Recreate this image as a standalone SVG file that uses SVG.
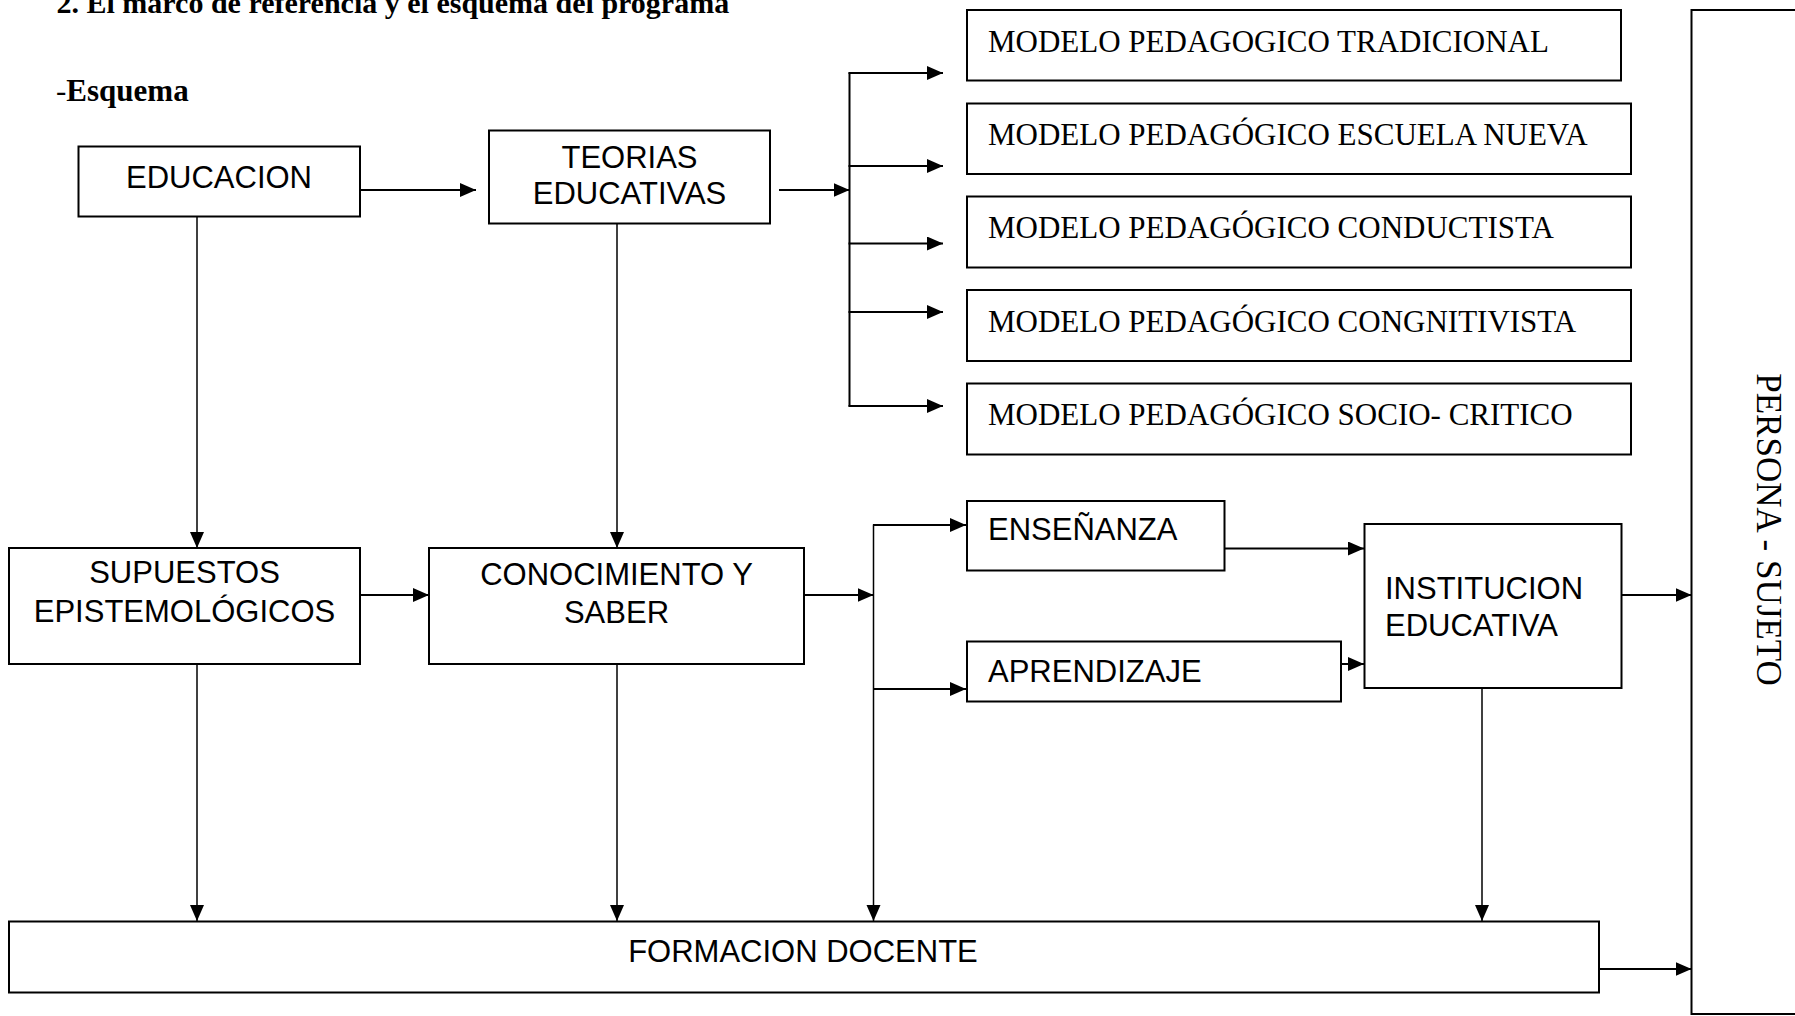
<svg xmlns="http://www.w3.org/2000/svg" width="1795" height="1016" viewBox="0 0 1795 1016">
<style>
.box{fill:#fff;stroke:#000;stroke-width:2}
.sans{font-family:"Liberation Sans",Arial,sans-serif;font-size:31px;fill:#000}
.serif{font-family:"Liberation Serif","Times New Roman",serif;font-size:31px;fill:#000}
.c{text-anchor:middle}
.ln{fill:none;stroke:#000;stroke-width:2}
.lv{fill:none;stroke:#000;stroke-width:1.5}
</style>
<defs>
<marker id="ah" markerUnits="userSpaceOnUse" markerWidth="17" markerHeight="15" refX="16" refY="7" orient="auto">
<path d="M0,0 L16,7 L0,14 z" fill="#000"/>
</marker>
</defs>
<rect width="1795" height="1016" fill="#fff"/>
<g id="headings">
<text class="serif" x="56.5" y="12.5" style="font-size:30px;font-weight:bold">2. El marco de referencia y el esquema del programa</text>
<text class="serif" x="56" y="101"><tspan>-</tspan><tspan font-weight="bold">Esquema</tspan></text>
</g>
<g id="connectors">
<line class="ln" x1="360" y1="190" x2="476" y2="190" marker-end="url(#ah)"/>
<line class="ln" x1="779" y1="190" x2="849.5" y2="190" marker-end="url(#ah)"/>
<line class="ln" x1="849.5" y1="72.5" x2="849.5" y2="406.5"/>
<line class="ln" x1="848.5" y1="73" x2="943" y2="73" marker-end="url(#ah)"/>
<line class="ln" x1="848.5" y1="166" x2="943" y2="166" marker-end="url(#ah)"/>
<line class="ln" x1="848.5" y1="243.5" x2="943" y2="243.5" marker-end="url(#ah)"/>
<line class="ln" x1="848.5" y1="312" x2="943" y2="312" marker-end="url(#ah)"/>
<line class="ln" x1="848.5" y1="406" x2="943" y2="406" marker-end="url(#ah)"/>
<line class="lv" x1="197" y1="217" x2="197" y2="548" marker-end="url(#ah)"/>
<line class="lv" x1="617" y1="223" x2="617" y2="548" marker-end="url(#ah)"/>
<line class="ln" x1="360" y1="595" x2="429" y2="595" marker-end="url(#ah)"/>
<line class="ln" x1="804" y1="595" x2="873.5" y2="595" marker-end="url(#ah)"/>
<line class="lv" x1="873.5" y1="524.5" x2="873.5" y2="921" marker-end="url(#ah)"/>
<line class="ln" x1="873" y1="525" x2="966" y2="525" marker-end="url(#ah)"/>
<line class="ln" x1="873" y1="689" x2="966" y2="689" marker-end="url(#ah)"/>
<line class="ln" x1="1225" y1="548.5" x2="1364" y2="548.5" marker-end="url(#ah)"/>
<line class="ln" x1="1341" y1="664" x2="1364" y2="664" marker-end="url(#ah)"/>
<line class="ln" x1="1621.5" y1="595" x2="1691.5" y2="595" marker-end="url(#ah)"/>
<line class="lv" x1="1482" y1="688" x2="1482" y2="921" marker-end="url(#ah)"/>
<line class="lv" x1="197" y1="664" x2="197" y2="921" marker-end="url(#ah)"/>
<line class="lv" x1="617" y1="664" x2="617" y2="921" marker-end="url(#ah)"/>
<line class="ln" x1="1599" y1="969" x2="1691.5" y2="969" marker-end="url(#ah)"/>
</g>
<g id="educacion">
<rect class="box" x="78.5" y="146.5" width="281.5" height="70"/>
<text class="sans c" x="219" y="188">EDUCACION</text>
</g>
<g id="teorias">
<rect class="box" x="489" y="130.5" width="281" height="93"/>
<text class="sans c" x="629.5" y="168">TEORIAS</text>
<text class="sans c" x="629.5" y="204">EDUCATIVAS</text>
</g>
<g id="m1">
<rect class="box" x="967" y="10" width="654" height="70.5"/>
<text class="serif" x="988" y="51.7">MODELO PEDAGOGICO TRADICIONAL</text>
</g>
<g id="m2">
<rect class="box" x="967" y="103.5" width="664" height="70.5"/>
<text class="serif" x="988" y="145">MODELO PEDAGÓGICO ESCUELA NUEVA</text>
</g>
<g id="m3">
<rect class="box" x="967" y="196.5" width="664" height="71"/>
<text class="serif" x="988" y="238">MODELO PEDAGÓGICO CONDUCTISTA</text>
</g>
<g id="m4">
<rect class="box" x="967" y="290" width="664" height="71"/>
<text class="serif" x="988" y="331.5">MODELO PEDAGÓGICO CONGNITIVISTA</text>
</g>
<g id="m5">
<rect class="box" x="967" y="383.5" width="664" height="71"/>
<text class="serif" x="988" y="425">MODELO PEDAGÓGICO SOCIO- CRITICO</text>
</g>
<g id="supuestos">
<rect class="box" x="9" y="548" width="351" height="116"/>
<text class="sans c" x="184.5" y="583">SUPUESTOS</text>
<text class="sans c" x="184.5" y="622">EPISTEMOLÓGICOS</text>
</g>
<g id="conocimiento">
<rect class="box" x="429" y="548" width="375" height="116"/>
<text class="sans c" x="616.5" y="585">CONOCIMIENTO Y</text>
<text class="sans c" x="616.5" y="623">SABER</text>
</g>
<g id="ensenanza">
<rect class="box" x="967" y="501" width="257.5" height="69.5"/>
<text class="sans" x="988" y="540">ENSEÑANZA</text>
</g>
<g id="aprendizaje">
<rect class="box" x="967" y="641.5" width="374" height="60"/>
<text class="sans" x="988" y="682">APRENDIZAJE</text>
</g>
<g id="institucion">
<rect class="box" x="1364.5" y="524" width="257" height="164"/>
<text class="sans" x="1385" y="599">INSTITUCION</text>
<text class="sans" x="1385" y="636">EDUCATIVA</text>
</g>
<g id="formacion">
<rect class="box" x="9" y="921.5" width="1590" height="71"/>
<text class="sans c" x="803" y="962">FORMACION DOCENTE</text>
</g>
<g id="persona">
<rect class="box" x="1691.5" y="10" width="120" height="1004"/>
<text class="serif c" style="font-size:35px" transform="translate(1757,529.5) rotate(90)" x="0" y="0">PERSONA - SUJETO</text>
</g>
</svg>
